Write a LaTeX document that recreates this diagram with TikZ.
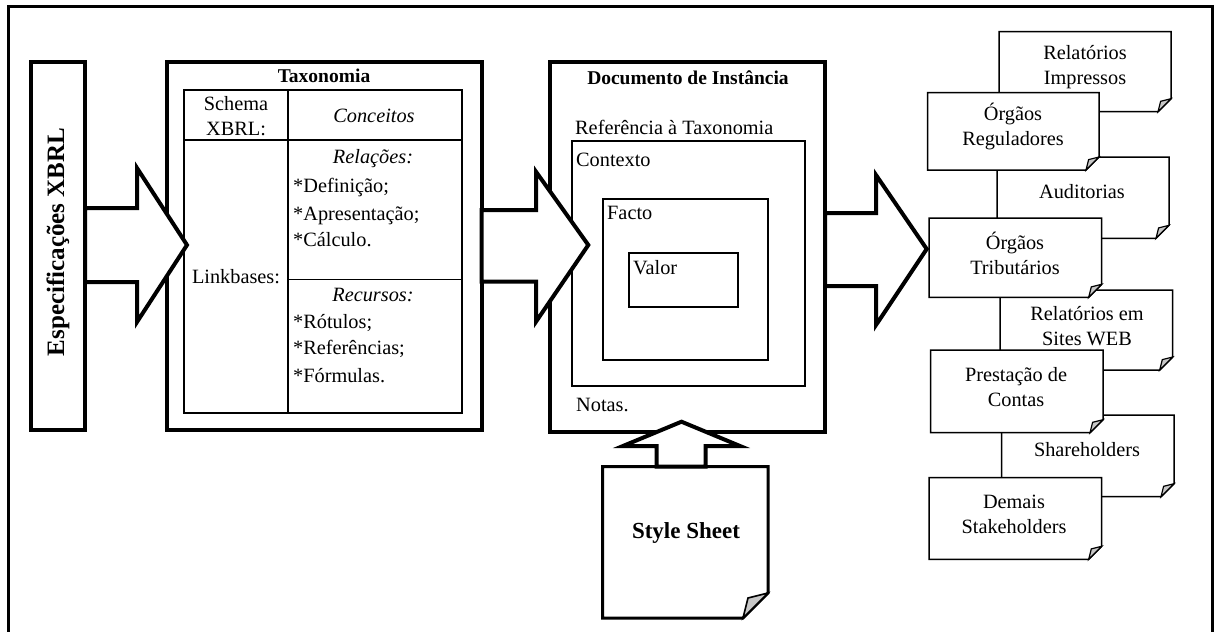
\documentclass[tikz,border=0pt]{standalone}
\usepackage{fontspec}
\setmainfont{Liberation Serif}
\newcommand\fszA{\fontsize{20.3}{25}\selectfont}
\newcommand\fszT{\fontsize{19.5}{24}\selectfont\bfseries}
\newcommand\mydocshape[6]{%
  \draw[docline] (#1,#2) -- (#3,#2) -- (#3,{#4-#5}) -- ({#3-#5},#4) -- (#1,#4) -- cycle;
  \draw[foldline] ({#3-#5},#4) -- ({#3-0.8*#5},{#4-0.8*#5}) -- (#3,{#4-#5}) -- cycle;
  \coordinate (#6) at (#1,#2);}
\begin{document}
\begin{tikzpicture}[x=1pt,y=-1pt,
  thickbox/.style={draw, line width=4pt, fill=white, inner sep=0pt, outer sep=0pt, anchor=north west},
  thinbox/.style={draw, line width=1.6pt, inner sep=0pt, outer sep=0pt, anchor=north west},
  blockarrow/.style={draw, line width=4pt, fill=white, line join=miter, miter limit=10},
  docline/.style={draw, line width=1.5pt, fill=white, line join=miter},
  foldline/.style={draw, line width=1.2pt, fill=black!22, line join=miter},
  txt/.style={inner sep=0pt, font=\fszA, text height=14pt, text depth=4pt},
  ltxt/.style={txt, anchor=west},
  mtxt/.style={inner sep=0pt, font=\fszA, align=center},
]
\useasboundingbox (0,0) rectangle (1216,632);
\clip (0,0) rectangle (1216,632);
% outer frame
\draw[line width=3pt] (8.3,6.7) rectangle (1212,660);

% left box
\node[thickbox, minimum width=54.3pt, minimum height=368.3pt] (spec) at (30.7,61.7) {};
\node[inner sep=0pt, rotate=90, font=\fontsize{25}{29}\selectfont\bfseries] (spect) at (58,242) {Especificações XBRL};

% taxonomy box
\node[thickbox, minimum width=315pt, minimum height=368.3pt] (tax) at (166.7,61.7) {};
\node[txt, font=\fszT] (taxt) at (324,77) {Taxonomia};
\node[thinbox, minimum width=277.7pt, minimum height=323pt] (table) at (184,90) {};
\coordinate (c1top) at (288,90);
\coordinate (c1bot) at (288,413);
\coordinate (r1l) at (184,140);
\coordinate (r1r) at (461.7,140);
\coordinate (r2l) at (288,279.5);
\coordinate (r2r) at (461.7,279.5);
\draw[line width=1.6pt] (c1top) -- (c1bot);
\draw[line width=1.6pt] (r1l) -- (r1r);
\draw[line width=1.6pt] (r2l) -- (r2r);
\node[txt] (schema) at (236,105) {Schema};
\node[txt] (xbrl) at (236,130) {XBRL:};
\node[txt, font=\fszA\itshape] (conc) at (374,117) {Conceitos};
\node[txt, font=\fszA\itshape] (rel) at (373,158) {Relações:};
\node[ltxt] (def) at (293,187) {*Definição;};
\node[ltxt] (apr) at (293,215) {*Apresentação;};
\node[ltxt] (calc) at (293,241) {*Cálculo.};
\node[txt] (link) at (236,278) {Linkbases:};
\node[txt, font=\fszA\itshape] (rec) at (373,296) {Recursos:};
\node[ltxt] (rot) at (293,323) {*Rótulos;};
\node[ltxt] (ref) at (293,349) {*Referências;};
\node[ltxt] (form) at (293,377) {*Fórmulas.};

% instance document box
\node[thickbox, minimum width=275pt, minimum height=370pt] (doc) at (550,61.7) {};
\node[txt, font=\fszT] (doct) at (688,79) {Documento de Instância};
\node[ltxt] (reft) at (575,129) {Referência à Taxonomia};
\node[thinbox, minimum width=233pt, minimum height=245pt] (ctx) at (572,141) {};
\node[ltxt] (ctxt) at (576,161) {Contexto};
\node[thinbox, minimum width=165pt, minimum height=161pt] (fact) at (603,199) {};
\node[ltxt] (factt) at (607,214) {Facto};
\node[thinbox, minimum width=109pt, minimum height=54pt] (val) at (629,253) {};
\node[ltxt] (valt) at (633,269) {Valor};
\node[ltxt] (notas) at (576,406) {Notas.};

% style sheet
\draw[line width=3pt, fill=white, line join=miter] (602.7,466.7) -- (768,466.7) -- (768,593) -- (743,618) -- (602.7,618) -- cycle;
\draw[foldline, line width=1.6pt] (743,618) -- (748,598) -- (768,593) -- cycle;
\coordinate (ss) at (685.35,466.7);
\node[inner sep=0pt, font=\fontsize{23}{27}\selectfont\bfseries] (sst) at (686,533) {Style Sheet};

% right side documents (back row)
\mydocshape{999}{31.7}{1171}{111.7}{13}{b1}
\mydocshape{997}{157}{1169}{238.3}{13}{b2}
\mydocshape{1000}{290}{1172.7}{370}{13}{b3}
\mydocshape{1001.7}{415}{1174}{496.7}{13}{b4}
% front row
\mydocshape{927.7}{92.7}{1099}{170}{13}{f1}
\mydocshape{929}{218}{1101.7}{297.3}{13}{f2}
\mydocshape{930.7}{350}{1103}{432.7}{13}{f3}
\mydocshape{929}{477.7}{1101.7}{559.3}{13}{f4}

\node[mtxt] (b1t) at (1085,67) {Relatórios\\Impressos};
\node[mtxt] (b2t) at (1082,192) {Auditorias};
\node[mtxt] (b3t) at (1087,326) {Relatórios em\\Sites WEB};
\node[mtxt] (b4t) at (1087,450) {Shareholders};
\node[mtxt] (f1t) at (1013,126) {Órgãos\\Reguladores};
\node[mtxt] (f2t) at (1015,253) {Órgãos\\Tributários};
\node[mtxt] (f3t) at (1016,387) {Prestação de\\Contas};
\node[mtxt] (f4t) at (1014,514.5) {Demais\\Stakeholders};

% block arrows
\draw[blockarrow] (85,208) -- (137,208) -- (137,168) -- (187,245) -- (137,322) -- (137,282) -- (85,282) -- cycle;
\draw[blockarrow] (481.7,210) -- (536,210) -- (536,171.7) -- (588.3,245) -- (536,321.7) -- (536,281.7) -- (481.7,281.7) -- cycle;
\draw[blockarrow] (825,213) -- (876,213) -- (876,175) -- (926.7,249) -- (876,325) -- (876,286) -- (825,286) -- cycle;
\draw[blockarrow] (656.7,466.7) -- (656.7,446) -- (623,446) -- (681.5,421.7) -- (740,446) -- (705.7,446) -- (705.7,466.7) -- cycle;
\end{tikzpicture}
\end{document}
